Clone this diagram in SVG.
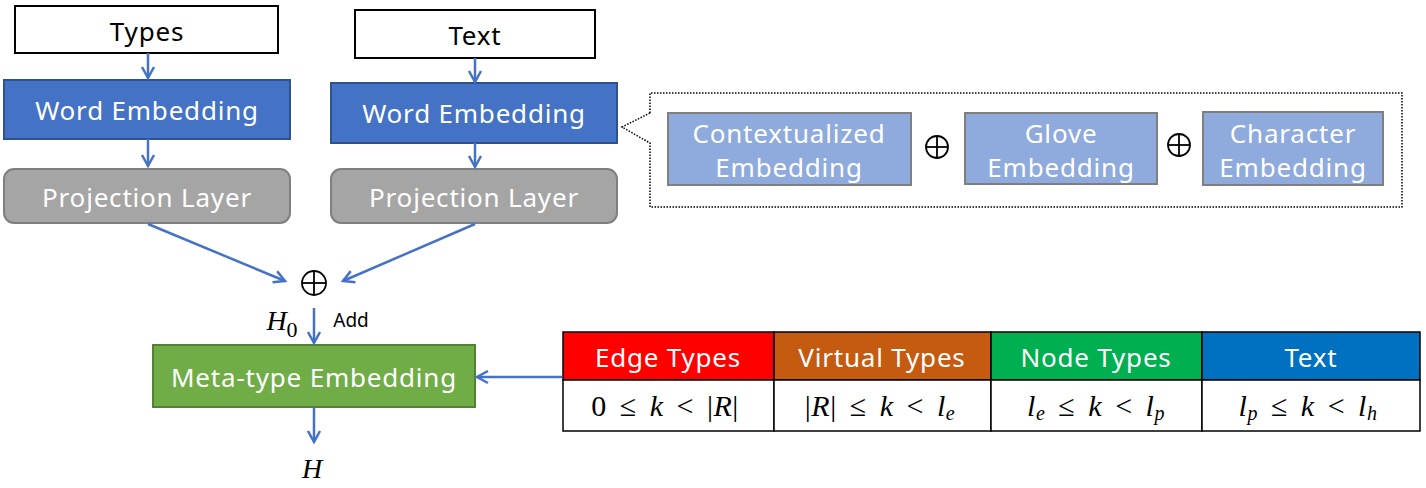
<svg xmlns="http://www.w3.org/2000/svg" width="1426" height="488" viewBox="0 0 1426 488">
<defs>
<marker id="ah" markerWidth="16" markerHeight="16" refX="12" refY="8" orient="auto" markerUnits="userSpaceOnUse">
<path d="M1,2 L12,8 L1,14" fill="none" stroke="#4472C4" stroke-width="2.5"/>
</marker>
</defs>
<style>
text{font-family:"Noto Sans","Open Sans","Liberation Sans",sans-serif;text-anchor:middle;dominant-baseline:central}
.lbl{font-size:26px;fill:#fff;letter-spacing:0.8px}
.blk{font-size:26px;fill:#000;letter-spacing:0.8px}
.we{fill:#4472C4;stroke:#2F528F;stroke-width:2}
.pl{fill:#A5A5A5;stroke:#7F7F7F;stroke-width:2}
.sub{fill:#8FAADC;stroke:#7F7F7F;stroke-width:2}
.in{fill:#fff;stroke:#000;stroke-width:2}
.math{font-family:"Liberation Serif","DejaVu Serif",serif;font-style:italic;font-size:28px;fill:#000}
.mathr{font-family:"Liberation Serif","DejaVu Serif",serif;font-size:30px;fill:#000;word-spacing:5px;letter-spacing:0.5px}
.conn line,.conn path{stroke:#4472C4;stroke-width:2.5;fill:none}
.oplus circle,.oplus line{fill:none;stroke:#000;stroke-width:1.8}
.cell{stroke:#000;stroke-width:1.5}
</style>

<g id="types"><rect class="in" x="15" y="6" width="263" height="47"/><text class="blk" x="147" y="31">Types</text></g>
<g id="text-in"><rect class="in" x="355" y="10" width="240" height="48"/><text class="blk" x="475" y="35">Text</text></g>
<g id="we-left"><rect class="we" x="4" y="80" width="286" height="59"/><text class="lbl" x="147" y="110">Word Embedding</text></g>
<g id="we-right"><rect class="we" x="331" y="83" width="286" height="60"/><text class="lbl" x="474" y="113">Word Embedding</text></g>
<g id="pl-left"><rect class="pl" x="4" y="169" width="286" height="54" rx="10"/><text class="lbl" x="147" y="197">Projection Layer</text></g>
<g id="pl-right"><rect class="pl" x="331" y="169" width="286" height="54" rx="10"/><text class="lbl" x="474" y="197">Projection Layer</text></g>

<g id="callout">
<path d="M650,113 L650,93 L1402,93 L1402,207 L650,207 L650,143 L622,127 Z" fill="none" stroke="#000" stroke-width="1.5" stroke-dasharray="1.5,1.5"/>
</g>
<g id="ctx"><rect class="sub" x="668" y="113" width="243" height="72"/><text class="lbl" x="789" y="133">Contextualized</text><text class="lbl" x="789" y="167">Embedding</text></g>
<g id="glove"><rect class="sub" x="965" y="113" width="192" height="71"/><text class="lbl" x="1061" y="133">Glove</text><text class="lbl" x="1061" y="167">Embedding</text></g>
<g id="char"><rect class="sub" x="1203" y="112" width="180" height="73"/><text class="lbl" x="1293" y="133">Character</text><text class="lbl" x="1293" y="167">Embedding</text></g>
<g id="oplus1" class="oplus"><circle cx="937" cy="147" r="11"/><line x1="926" y1="147" x2="948" y2="147"/><line x1="937" y1="136" x2="937" y2="158"/></g>
<g id="oplus2" class="oplus"><circle cx="1179" cy="145" r="11"/><line x1="1168" y1="145" x2="1190" y2="145"/><line x1="1179" y1="134" x2="1179" y2="156"/></g>

<g id="oplus-main" class="oplus"><circle cx="314" cy="283" r="12"/><line x1="302" y1="283" x2="326" y2="283"/><line x1="314" y1="271" x2="314" y2="295"/></g>
<g id="h0"><text class="math" x="282" y="320">H<tspan font-style="normal" font-size="22" dy="9">0</tspan></text></g>
<g id="add"><text x="351" y="320" font-size="19" fill="#000">Add</text></g>

<g id="meta"><rect x="153" y="345" width="322" height="62" fill="#70AD47" stroke="#548235" stroke-width="2"/><text class="lbl" x="314" y="377">Meta-type Embedding</text></g>
<g id="h"><text class="math" x="312" y="468">H</text></g>

<g id="table">
<rect class="cell" x="563" y="332" width="211" height="48" fill="#FF0000"/>
<rect class="cell" x="774" y="332" width="217" height="48" fill="#C55A11"/>
<rect class="cell" x="991" y="332" width="211" height="48" fill="#00B050"/>
<rect class="cell" x="1202" y="332" width="218" height="48" fill="#0070C0"/>
<rect class="cell" x="563" y="380" width="211" height="51" fill="#fff"/>
<rect class="cell" x="774" y="380" width="217" height="51" fill="#fff"/>
<rect class="cell" x="991" y="380" width="211" height="51" fill="#fff"/>
<rect class="cell" x="1202" y="380" width="218" height="51" fill="#fff"/>
<text class="lbl" x="668" y="357">Edge Types</text>
<text class="lbl" x="882" y="357">Virtual Types</text>
<text class="lbl" x="1096" y="357">Node Types</text>
<text class="lbl" x="1311" y="357">Text</text>
<text class="mathr" x="665" y="405">0 ≤ <tspan font-style="italic">k</tspan> &lt; |<tspan font-style="italic">R</tspan>|</text>
<text class="mathr" x="880" y="405">|<tspan font-style="italic">R</tspan>| ≤ <tspan font-style="italic">k</tspan> &lt; <tspan font-style="italic">l</tspan><tspan font-style="italic" font-size="20" dy="8">e</tspan></text>
<text class="mathr" x="1096" y="405"><tspan font-style="italic">l</tspan><tspan font-style="italic" font-size="20" dy="8">e</tspan><tspan dy="-8"> ≤ </tspan><tspan font-style="italic">k</tspan> &lt; <tspan font-style="italic">l</tspan><tspan font-style="italic" font-size="20" dy="8">p</tspan></text>
<text class="mathr" x="1308" y="405"><tspan font-style="italic">l</tspan><tspan font-style="italic" font-size="20" dy="8">p</tspan><tspan dy="-8"> ≤ </tspan><tspan font-style="italic">k</tspan> &lt; <tspan font-style="italic">l</tspan><tspan font-style="italic" font-size="20" dy="8">h</tspan></text>
</g>

<g id="connectors" class="conn">
<line x1="148" y1="53" x2="148" y2="78" marker-end="url(#ah)"/>
<line x1="475" y1="58" x2="475" y2="82" marker-end="url(#ah)"/>
<line x1="148" y1="139" x2="148" y2="166" marker-end="url(#ah)"/>
<line x1="475" y1="143" x2="475" y2="167" marker-end="url(#ah)"/>
<line x1="148" y1="224" x2="285" y2="281" marker-end="url(#ah)"/>
<line x1="475" y1="224" x2="343" y2="281" marker-end="url(#ah)"/>
<line x1="314" y1="308" x2="314" y2="343" marker-end="url(#ah)"/>
<line x1="314" y1="407" x2="314" y2="442" marker-end="url(#ah)"/>
<line x1="562" y1="377" x2="477" y2="377" marker-end="url(#ah)"/>
</g>
</svg>
